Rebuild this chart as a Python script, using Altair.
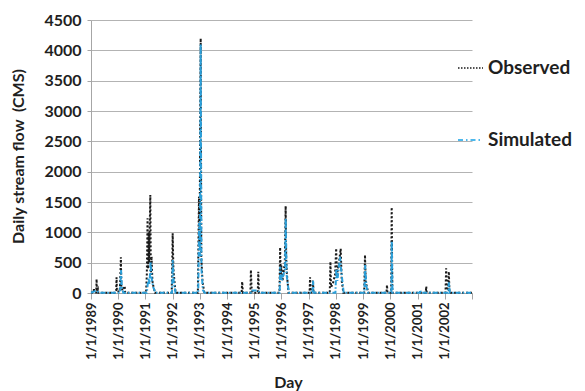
import altair as alt
import pandas as pd

series_names = ["Observed", "Simulated"]

obs_dates = [
    "1989-01-01", "1989-02-05", "1989-02-10", "1989-02-15", "1989-03-12", "1989-03-17", "1989-03-22",
    "1989-04-04", "1989-04-10", "1989-11-25", "1989-12-05", "1989-12-10", "1989-12-15", "1990-01-20",
    "1990-01-28", "1990-02-06", "1990-02-12", "1990-03-01", "1990-03-29", "1990-04-05", "1991-01-10",
    "1991-01-20", "1991-01-30", "1991-02-05", "1991-02-14", "1991-02-20", "1991-03-08", "1991-03-15",
    "1991-03-25", "1991-04-05", "1991-04-20", "1991-05-10", "1991-12-20", "1992-01-02", "1992-01-12",
    "1992-01-25", "1992-02-10", "1992-12-05", "1992-12-20", "1992-12-28", "1993-01-12", "1993-01-20",
    "1993-02-05", "1993-03-01", "1994-07-15", "1994-07-23", "1994-08-01", "1994-11-10", "1994-11-17",
    "1994-11-25", "1994-12-10", "1995-02-17", "1995-02-24", "1995-03-05", "1995-12-05", "1995-12-14",
    "1995-12-22", "1995-12-30", "1996-01-15", "1996-02-15", "1996-02-26", "1996-03-05", "1996-03-15",
    "1996-04-05", "1997-01-12", "1997-01-19", "1997-01-26", "1997-02-20", "1997-02-27", "1997-03-06",
    "1997-10-10", "1997-10-19", "1997-10-28", "1997-11-20", "1997-12-20", "1998-01-04", "1998-01-15",
    "1998-02-10", "1998-03-06", "1998-03-20", "1998-04-10", "1999-01-15", "1999-01-26", "1999-02-05",
    "1999-02-20", "1999-03-10", "1999-11-10", "1999-11-17", "1999-11-24", "2000-01-12", "2000-01-19",
    "2000-01-28", "2001-04-20", "2001-04-27", "2001-05-04", "2002-01-10", "2002-01-19", "2002-01-28",
    "2002-02-15", "2002-02-24", "2002-03-05", "2002-12-31",
]
obs_values = [
    5, 10, 80, 10, 10, 230, 20,
    60, 5, 5, 40, 258, 30, 20,
    180, 588, 100, 40, 115, 5, 5,
    300, 1230, 400, 1000, 500, 1614, 300,
    600, 200, 100, 5, 5, 983, 400,
    200, 5, 5, 1587, 800, 4196, 600,
    200, 5, 5, 186, 5, 5, 379,
    100, 5, 5, 351, 5, 5, 753,
    300, 450, 200, 500, 1433, 550, 300,
    5, 5, 258, 10, 10, 214, 5,
    5, 516, 100, 150, 300, 736, 300,
    500, 730, 200, 5, 5, 626, 200,
    100, 5, 5, 132, 5, 5, 1412,
    5, 5, 104, 5, 5, 407, 50,
    50, 351, 5, 5,
]

sim_dates = [
    "1989-01-01", "1989-03-15", "1989-04-20", "1990-01-25", "1990-02-08", "1990-02-20", "1990-03-10",
    "1991-01-20", "1991-02-10", "1991-02-25", "1991-03-12", "1991-03-25", "1991-04-15", "1991-05-15",
    "1991-12-25", "1992-01-03", "1992-01-15", "1992-02-10", "1992-12-10", "1992-12-22", "1993-01-01",
    "1993-01-12", "1993-01-22", "1993-02-10", "1993-03-05", "1994-11-15", "1994-11-20", "1995-02-25",
    "1995-03-10", "1995-12-08", "1995-12-16", "1996-01-05", "1996-02-18", "1996-02-27", "1996-03-10",
    "1996-04-10", "1997-02-20", "1997-02-28", "1997-03-08", "1997-12-25", "1998-01-06", "1998-01-20",
    "1998-02-25", "1998-03-10", "1998-04-15", "1999-01-18", "1999-01-28", "1999-02-15", "1999-03-10",
    "2000-01-14", "2000-01-20", "2000-01-30", "2001-02-01", "2001-02-06", "2001-02-12", "2002-02-15",
    "2002-02-25", "2002-03-10", "2002-12-31",
]
sim_values = [
    5, 40, 5, 5, 380, 100, 5,
    5, 250, 150, 516, 250, 100, 5,
    5, 543, 200, 5, 5, 1153, 600,
    4100, 400, 50, 5, 5, 40, 40,
    5, 5, 433, 200, 400, 1230, 300,
    5, 5, 200, 5, 5, 400, 200,
    598, 400, 5, 5, 461, 100, 5,
    5, 850, 5, 5, 50, 5, 5,
    176, 5, 5,
]

year_ticks = [f"{y}-01-01" for y in range(1989, 2004)]
y_ticks = [0, 500, 1000, 1500, 2000, 2500, 3000, 3500, 4000, 4500]

obs_df = pd.DataFrame({"date": pd.to_datetime(obs_dates), "flow": obs_values, "series": series_names[0]})
sim_df = pd.DataFrame({"date": pd.to_datetime(sim_dates), "flow": sim_values, "series": series_names[1]})

FONT = "Lato"
TXT = "#1f1f1f"
OBS_COLOR = "#1a1a1a"
SIM_COLOR = "#2b9fd9"

x_enc = alt.X(
    "date:T",
    scale=alt.Scale(domain=["1989-01-01T00:00:00", "2003-01-01T00:00:00"]),
    axis=alt.Axis(
        values=[pd.Timestamp(t).isoformat() for t in year_ticks],
        format="%-m/%-d/%Y",
        labelAngle=270,
        labelFont=FONT, labelFontSize=13, labelFontWeight="bold", labelColor=TXT,
        labelPadding=3, labelOverlap=False, labelBound=False, labelFlush=False,
        labelExpr="year(datum.value) < 2003 ? datum.label : ''",
        tickSize=6, tickColor="#a6a6a6", domainColor="#a6a6a6", grid=False,
        title="Day", titleFont=FONT, titleFontSize=16, titleFontWeight="bold", titleColor=TXT,
        titleX=197, titleY=89, titleBaseline="middle", titleAlign="center",
    ),
)
y_enc = alt.Y(
    "flow:Q",
    scale=alt.Scale(domain=[0, 4500], nice=False),
    axis=alt.Axis(
        values=y_ticks, format="d", labelOverlap=False,
        labelFont=FONT, labelFontSize=16, labelFontWeight="bold", labelColor=TXT,
        labelPadding=6, tickSize=4, tickColor="#a6a6a6", domainColor="#a6a6a6",
        grid=True, gridColor="#b3b3b3", gridWidth=1,
        title="Daily stream flow \u00a0(CMS)", titleFont=FONT, titleFontSize=16, titleFontWeight="bold",
        titleColor=TXT, titleAngle=270, titleX=-73, titleY=136, titleBaseline="middle",
        titleAlign="center",
    ),
)

obs_line = alt.Chart(obs_df).mark_line(
    color=OBS_COLOR, strokeDash=[2, 2], strokeWidth=2, interpolate="linear"
).encode(x=x_enc, y=y_enc)

sim_line = alt.Chart(sim_df).mark_line(
    color=SIM_COLOR, strokeDash=[5, 2, 1.5, 2], strokeWidth=2, interpolate="linear"
).encode(x=x_enc, y=y_enc)

leg_obs_df = pd.DataFrame({"label": [series_names[0]]})
leg_sim_df = pd.DataFrame({"label": [series_names[1]]})

leg_obs_rule = alt.Chart(leg_obs_df).mark_rule(
    color=OBS_COLOR, strokeDash=[1.5, 1.5], strokeWidth=1.5
).encode(x=alt.value(367), x2=alt.value(392), y=alt.value(48))
leg_obs_text = alt.Chart(leg_obs_df).mark_text(
    align="left", baseline="middle", font=FONT, fontSize=19, fontWeight="bold", color=TXT
).encode(x=alt.value(397), y=alt.value(48), text="label:N")

leg_sim_rule = alt.Chart(leg_sim_df).mark_rule(
    color="#4db8ec", strokeDash=[5, 3, 1.5, 3], strokeWidth=1.8
).encode(x=alt.value(367), x2=alt.value(392), y=alt.value(120))
leg_sim_text = alt.Chart(leg_sim_df).mark_text(
    align="left", baseline="middle", font=FONT, fontSize=19, fontWeight="bold", color=TXT
).encode(x=alt.value(397), y=alt.value(120), text="label:N")

chart = alt.layer(
    obs_line, sim_line, leg_obs_rule, leg_obs_text, leg_sim_rule, leg_sim_text
).properties(
    width=381, height=273,
    autosize=alt.AutoSizeParams(type="none"),
    padding={"left": 91, "top": 20, "right": 113, "bottom": 98},
    background="white",
).configure_view(stroke=None)

chart.save("out.html", embed_options={"renderer": "svg", "actions": False})
